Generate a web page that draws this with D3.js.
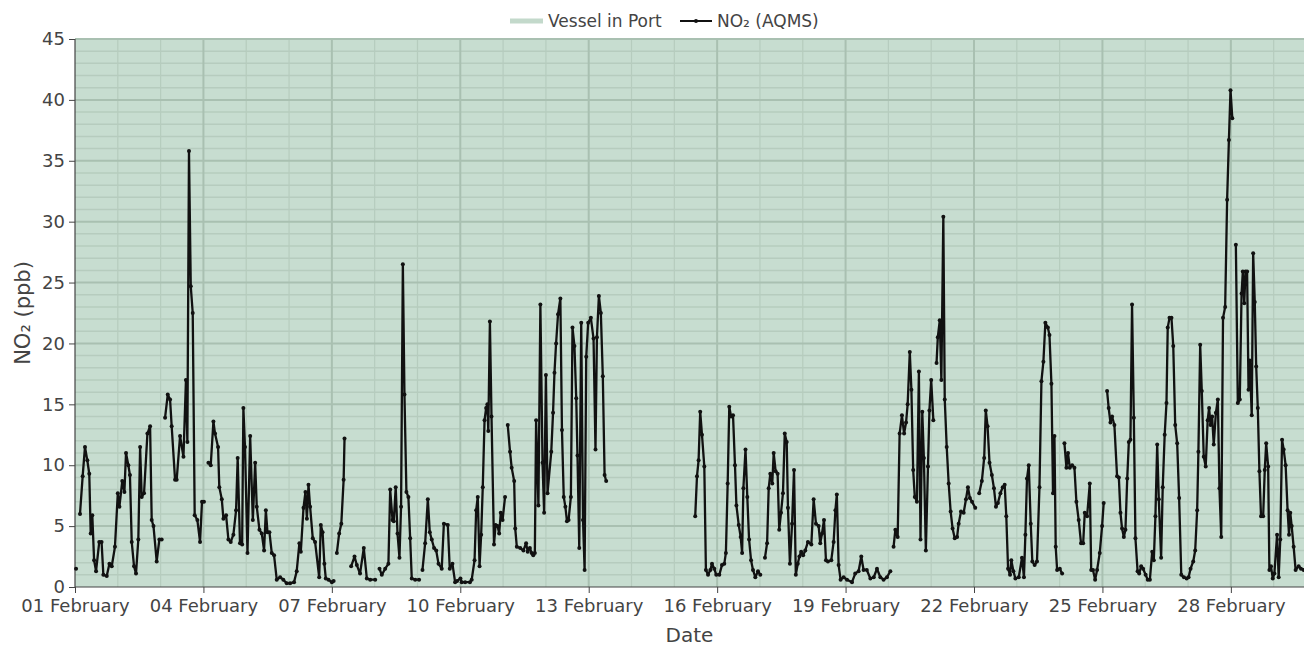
<!DOCTYPE html>
<html>
<head>
<meta charset="utf-8">
<script src="https://cdn.jsdelivr.net/npm/d3@7"></script>
<style>
  body { margin: 0; background: #fff; }
  svg { display: block; font-family: "DejaVu Sans", Verdana, sans-serif; }
</style>
</head>
<body>
<svg id="chart" width="1304" height="648"></svg>
<script>
// hours counted from 01 February 00:00, null = gap in the record
var no2Hours = [
  0.6, null,
  2.8,4.3,5.6,6.9,8.0,8.8,9.7,10.7,11.8,13.6,14.9,15.9,17.8,19.3,20.6,22.4,24.0,24.9,26.5,27.7,28.6,29.9,30.8,31.8,33.1,34.2,35.5,36.5,37.4,38.7,40.6,42.1,43.0,44.0,45.8,47.3,48.6, null,
  50.5,52.0,53.3,54.2,56.1,57.0,58.9,60.8,62.2,63.0,63.9,64.9,66.0,67.1,68.6,70.1,71.2,72.3, null,
  74.8,76.1,77.6,78.5,80.2,80.9,82.3,83.2,84.7,86.0,87.3,88.8,90.3,91.2,92.5,93.7,94.4,95.3,96.7,98.2,99.7,101.0,101.9,103.4,104.7,106.0,107.0,107.9,109.0,110.3,111.6,113.1,115.0,116.8,118.7,120.6,122.8,124.3,125.8,126.6,128.1,129.2,130.0,130.9,131.8,133.3,134.6,136.9,137.8,138.8,139.8,140.6,142.1,144.0,145.0, null,
  146.8,148.1,149.3,150.6,151.1, null,
  154.8,156.7,158.0,159.8,161.9,163.6,165.5,168.3, null,
  170.7,172.0,173.9,175.7,176.7,178.0,178.7,179.8,180.8,181.9,182.8,183.8,184.7,185.8,186.9,187.9,188.8,190.7,192.9, null,
  194.8,196.3,197.8,198.9,200.0,201.3,202.5,203.8,205.6,206.8,209.0,210.1,211.6,213.1,214.2,216.1,216.8,218.7,221.4,222.4,224.0,224.9,225.8,226.8,227.7,228.6,229.6,230.5,231.2,231.7,232.6,233.5,234.9,235.8,236.9,237.8,238.7,239.7,241.1, null,
  242.6,243.9,244.8,246.2,246.8,247.7,249.6,251.4,252.9,253.8,255.0,256.0,256.9,257.8,258.5,259.8,260.9,262.1,263.0,264.0,264.9,267.0,268.0,268.8,269.7,270.8,272.1,273.0,274.0,274.9,275.8,276.7,278.0,278.9,280.0,281.0,281.7,282.7,283.8,284.8,285.7,286.6,287.7,289.2,290.7,291.8,292.6,293.7,294.8,295.9,296.9,297.8, null,
  347.7,348.7,349.6,350.5,351.5,352.8,353.7,354.9,356.2,357.1,358.4,359.5,361.2,362.7,364.0,364.9,365.9,366.8,367.8,368.9,370.0,370.8,372.1,373.2,374.0,374.7,375.9,376.9,377.9,379.0,380.1,381.4,382.9,384.2, null,
  386.8,388.0,388.9,389.8,390.9,391.7,392.8,393.9,394.8,395.8,396.9,397.9,399.0,399.7,400.8,402.0,403.1,404.1,405.2,406.1,407.1,408.2,409.4,410.9,412.8,414.1,415.4,416.9,417.8,418.8,419.9,421.0,422.1,424.0,425.3,426.3,427.1,428.1,429.2,430.9,432.8,435.6,437.4,439.3,440.8,442.1,443.9,445.9,447.8,449.6,451.5,453.3,455.2,457.1, null,
  458.9,459.9,461.2,462.3,463.6,464.8,465.9,466.8,468.0,468.9,469.9,470.8,472.0,473.1,474.0,475.0,475.9,477.0,478.2,479.0,480.0,481.2, null,
  483.0,483.7,484.8,485.7,486.8,487.6,488.7,489.8,490.9,492.0,493.2,494.5,495.4,496.7,498.2,499.5,500.6,501.7,502.9,504.7, null,
  506.9,508.4,509.7,510.6,511.6,512.7,514.0,515.2,516.3,517.4,518.8,520.1,521.2,522.1,523.1,524.2,524.9,526.1,527.2,529.1,530.9,532.0,532.8,533.7,534.7,535.8,536.7,538.0,539.3,540.7,541.8,542.9,544.0,545.4,546.3,547.4,548.3,549.1,549.8,550.6,552.1,553.4, null,
  554.7,555.8,556.7,557.7,559.0,560.3,561.4,562.7,564.0,565.2,566.1,567.4,568.9,569.7,570.7,571.9,573.0,574.5,575.8,576.7, null,
  578.6,579.5,580.5,581.4,582.7,584.2,585.2,586.1,587.0,588.0,588.9,589.9,590.8,591.7,592.6,593.6,594.5,595.7,596.6,597.7,598.8,600.2,601.4,602.6,603.9,604.8,605.7,606.7,607.6,608.9,609.8,610.9,611.9,612.6,613.6,614.7,615.7,616.8,617.9,619.0,620.2,621.7,623.2,624.3,625.4,626.9,628.0,629.1,629.8,630.8,631.7,632.8,633.9,635.0,635.8,636.6,637.5,638.4,639.6,640.7,641.6,642.6,643.6,644.8,645.9,646.9,647.8,648.8, null,
  650.8,651.9,653.0,654.0,654.7,655.5,656.2,657.1,657.9,658.6,659.7,660.5,661.4,662.2,663.1,664.0,664.9,666.1,667.0,667.8,668.9,669.6,670.5,671.5,672.4,673.9,674.8,675.7,676.7,677.6,678.7,679.8,680.6,681.3,682.1,683.2,684.3,686.0,687.3,688.8
];

var no2Values = [
  1.5, null,
  6.0,9.1,11.5,10.4,9.3,4.4,5.9,2.2,1.3,3.7,3.7,1.0,0.9,1.9,1.7,3.3,7.7,6.6,8.7,7.8,11.0,10.0,9.2,3.7,1.7,1.1,3.9,11.5,7.4,7.7,12.6,13.2,5.5,5.0,2.1,3.9,3.9, null,
  13.9,15.8,15.4,13.2,8.8,8.8,12.4,10.7,17.0,11.9,35.8,24.7,22.5,5.9,5.5,3.7,7.0,7.0, null,
  10.2,10.0,13.6,12.6,11.5,8.2,7.2,5.6,5.9,3.9,3.7,4.3,6.3,10.6,3.6,3.5,14.7,11.5,2.8,12.4,5.5,10.2,6.6,4.7,4.4,3.0,6.3,4.5,4.5,2.8,2.6,0.6,0.8,0.6,0.3,0.3,0.4,1.3,3.6,2.9,6.5,7.8,5.6,8.4,6.6,4.0,3.7,0.8,5.1,4.5,1.9,0.7,0.6,0.4,0.5, null,
  2.8,4.4,5.2,8.8,12.2, null,
  1.7,2.5,1.8,1.1,3.2,0.7,0.6,0.6, null,
  1.5,1.0,1.5,1.9,8.0,5.5,5.4,8.2,4.4,2.4,6.6,26.5,15.8,7.8,7.4,4.0,0.7,0.6,0.6, null,
  1.4,3.6,7.2,4.5,3.9,3.2,3.0,1.9,1.5,5.2,5.1,1.5,1.9,0.4,0.5,0.7,0.4,0.4,0.4,0.6,2.2,6.3,7.4,1.7,4.3,8.2,13.7,14.7,15.0,12.8,21.8,14.0,3.5,5.1,5.0,4.4,6.1,5.5,7.4, null,
  13.3,11.1,9.8,8.7,4.8,3.3,3.2,3.0,3.6,2.9,3.2,2.8,2.6,2.8,13.7,6.7,23.2,10.2,6.1,17.4,7.7,11.1,14.3,17.6,20.0,22.4,23.7,12.9,7.4,6.6,5.4,5.5,7.4,21.3,19.8,15.5,10.8,3.2,21.7,5.5,1.4,18.9,21.7,22.1,20.4,11.3,20.5,23.9,22.5,17.3,9.2,8.7, null,
  5.8,9.1,10.4,14.4,12.5,9.9,1.4,1.0,1.4,1.9,1.5,1.0,1.0,1.8,1.9,2.8,8.5,14.8,14.0,14.1,10.0,6.7,5.1,4.1,2.8,8.1,11.3,7.4,3.9,2.2,1.4,0.8,1.3,1.0, null,
  2.4,3.6,8.1,9.3,8.5,11.0,9.5,9.3,4.7,6.1,7.7,12.6,11.9,6.5,1.9,5.2,9.6,1.0,1.9,2.5,2.9,2.6,3.0,3.7,3.5,7.2,5.2,5.0,3.6,4.4,5.5,2.2,2.1,2.2,3.7,6.3,7.6,1.8,0.6,0.8,0.6,0.4,1.1,1.3,2.5,1.4,1.4,0.7,0.8,1.5,0.8,0.6,0.8,1.3, null,
  3.3,4.7,4.1,12.6,14.1,12.6,13.5,15.0,19.3,16.2,9.6,7.4,7.0,17.7,3.9,14.4,10.6,3.0,9.9,14.5,17.0,13.7, null,
  18.4,20.5,21.9,17.0,30.4,15.4,11.5,8.5,6.2,4.8,4.0,4.1,5.2,6.2,6.1,7.2,8.2,7.3,7.0,6.5, null,
  7.7,8.7,10.6,14.5,13.2,10.2,9.2,8.1,6.6,6.9,7.7,8.2,8.4,5.8,1.5,1.0,2.2,1.3,0.7,0.8,2.4,0.8,4.3,8.9,10.0,5.2,2.1,1.8,2.1,8.2,16.9,18.5,21.7,21.3,20.7,16.7,7.7,12.4,3.3,1.4,1.5,1.1, null,
  11.8,9.8,11.0,9.8,10.0,9.8,7.0,5.5,3.6,3.6,6.1,5.8,8.5,1.4,1.4,0.6,1.4,2.8,5.0,6.9, null,
  16.1,14.7,13.5,14.0,13.3,9.1,9.0,6.1,4.8,4.1,4.7,8.9,11.9,12.1,23.2,13.9,4.0,1.3,1.1,1.7,1.5,1.0,0.6,0.6,2.9,2.2,5.8,11.7,7.2,2.4,8.2,12.5,15.1,21.3,22.1,22.1,19.8,13.3,11.8,7.3,1.0,0.8,0.7,0.8,1.5,2.1,3.0,6.3,11.1,19.9,16.1,10.7,9.9,13.7,14.7,13.3,14.0,11.7,14.3,15.4,8.1,4.1,22.1,23.0,31.8,36.7,40.8,38.5, null,
  28.1,15.1,15.4,24.1,25.9,23.3,25.9,25.9,16.2,18.6,14.1,27.4,23.4,18.1,14.7,9.5,5.8,5.8,9.6,11.8,9.9,1.4,1.7,0.7,1.1,4.3,0.8,3.9,12.1,11.3,10.0,6.3,4.3,6.1,5.0,3.3,1.4,1.7,1.5,1.4
];

// vessel in port periods (hours from start)
var vesselStartHours = [0];
var vesselEndHours = [689];

var tickDays = [1, 4, 7, 10, 13, 16, 19, 22, 25, 28];
var yTicks = [0, 5, 10, 15, 20, 25, 30, 35, 40, 45];
var endHour = 689;

var start = Date.UTC(2024, 1, 1);
var hourMs = 3600 * 1000;
function toDate(h) { return new Date(start + h * hourMs); }
function dayDate(d) { return new Date(Date.UTC(2024, 1, d)); }

if (no2Hours.length !== no2Values.length) console.log("length mismatch", no2Hours.length, no2Values.length);

var readings = no2Hours.map(function(h, i) {
  return h === null ? null : { t: toDate(h), v: no2Values[i] };
});

var svg = d3.select("#chart");
var plotLeft = 75, plotRight = 1304, plotTop = 39, plotBottom = 587;

var x = d3.scaleUtc().domain([toDate(0), toDate(endHour)]).range([plotLeft, plotRight]);
var y = d3.scaleLinear().domain([0, 45]).range([plotBottom, plotTop]);

// vessel shading
svg.append("g")
  .selectAll("rect")
  .data(vesselStartHours)
  .enter()
  .append("rect")
    .attr("x", function(d) { return x(toDate(d)); })
    .attr("width", function(d, i) { return x(toDate(vesselEndHours[i])) - x(toDate(d)); })
    .attr("y", plotTop)
    .attr("height", plotBottom - plotTop)
    .style("fill", "#c7ddd0");

// grid
var grid = svg.append("g");
var minorY = d3.range(1, 45).filter(function(v) { return v % 5 !== 0; });
grid.selectAll("line.ym").data(minorY).enter().append("line")
  .attr("x1", plotLeft).attr("x2", plotRight)
  .attr("y1", d => y(d)).attr("y2", d => y(d))
  .style("stroke", "#b6ccbe").style("stroke-width", 1.5);
var allDays = d3.range(2, 30).filter(function(d) { return tickDays.indexOf(d) < 0; });
grid.selectAll("line.xm").data(allDays).enter().append("line")
  .attr("x1", d => x(dayDate(d))).attr("x2", d => x(dayDate(d)))
  .attr("y1", plotTop).attr("y2", plotBottom)
  .style("stroke", "#b6ccbe").style("stroke-width", 1.2);
grid.selectAll("line.yM").data(yTicks.slice(1)).enter().append("line")
  .attr("x1", plotLeft).attr("x2", plotRight)
  .attr("y1", d => y(d)).attr("y2", d => y(d))
  .style("stroke", "#a9c0b1").style("stroke-width", 2);
grid.selectAll("line.xM").data(tickDays.slice(1)).enter().append("line")
  .attr("x1", d => x(dayDate(d))).attr("x2", d => x(dayDate(d)))
  .attr("y1", plotTop).attr("y2", plotBottom)
  .style("stroke", "#a9c0b1").style("stroke-width", 2);

// axes
var xAxis = d3.axisBottom(x)
  .tickValues(tickDays.map(dayDate))
  .tickFormat(d3.utcFormat("%d %B"))
  .tickSize(6).tickPadding(6);
var yAxis = d3.axisLeft(y).tickValues(yTicks).tickSize(6).tickPadding(4);

var gx = svg.append("g").attr("transform", "translate(0," + plotBottom + ")").call(xAxis);
var gy = svg.append("g").attr("transform", "translate(" + plotLeft + ",0)").call(yAxis);
[gx, gy].forEach(function(g) {
  g.select(".domain").style("stroke", "#444").style("stroke-width", 1.2);
  g.selectAll(".tick line").style("stroke", "#444");
  g.selectAll(".tick text").style("fill", "#444").style("font-size", "18px")
    .style("font-family", "'DejaVu Sans', Verdana, sans-serif");
});
gy.select(".domain").attr("d", "M0," + plotBottom + "V" + plotTop);
gx.select(".domain").attr("d", "M" + plotLeft + ",0H" + plotRight);

// NO2 line
var line = d3.line()
  .defined(function(d) { return d !== null; })
  .x(function(d) { return x(d.t); })
  .y(function(d) { return y(d.v); });

svg.append("path")
  .datum(readings)
  .attr("d", line)
  .style("fill", "none")
  .style("stroke", "#111")
  .style("stroke-width", 2.3)
  .style("stroke-linejoin", "round");

svg.append("g")
  .selectAll("circle")
  .data(readings.filter(function(d) { return d !== null; }))
  .enter()
  .append("circle")
    .attr("cx", d => x(d.t))
    .attr("cy", d => y(d.v))
    .attr("r", 2)
    .style("fill", "#111");

// axis titles
svg.append("text")
  .attr("x", (plotLeft + plotRight) / 2).attr("y", 642)
  .attr("text-anchor", "middle")
  .style("font-size", "20px").style("fill", "#444")
  .text("Date");
svg.append("text")
  .attr("transform", "translate(30," + (plotTop + plotBottom) / 2 + ") rotate(-90)")
  .attr("text-anchor", "middle")
  .style("font-size", "21px").style("fill", "#444")
  .text("NO₂ (ppb)");

// legend
var legend = svg.append("g").style("font-size", "17px").style("fill", "#444");
legend.append("line").attr("x1", 510).attr("x2", 543).attr("y1", 21).attr("y2", 21)
  .style("stroke", "#c3d9cb").style("stroke-width", 5);
legend.append("text").attr("x", 548).attr("y", 27).text("Vessel in Port");
legend.append("line").attr("x1", 680).attr("x2", 712).attr("y1", 21).attr("y2", 21)
  .style("stroke", "#111").style("stroke-width", 2);
legend.append("circle").attr("cx", 696).attr("cy", 21).attr("r", 2).style("fill", "#111");
legend.append("text").attr("x", 717).attr("y", 27).text("NO₂ (AQMS)");
</script>
</body>
</html>
